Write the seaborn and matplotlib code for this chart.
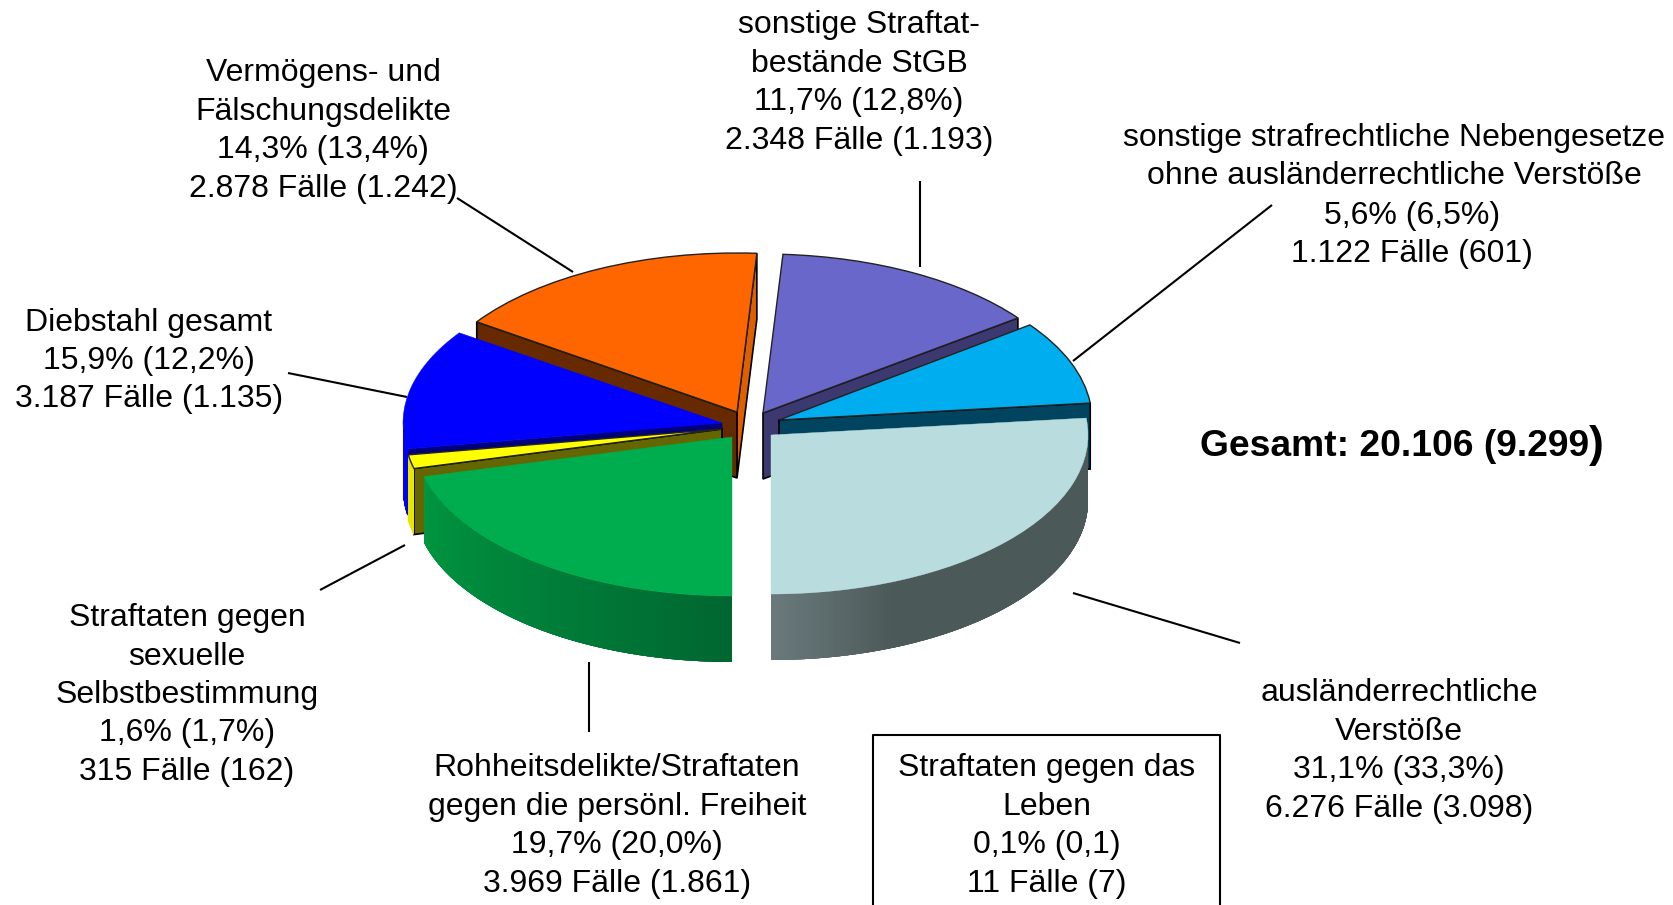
import numpy as np
import matplotlib
matplotlib.use('Agg')
import matplotlib.pyplot as plt
from matplotlib.patches import Polygon
from matplotlib.transforms import Affine2D
import seaborn as sns

# order: counter-clockwise from 6 o'clock
categories = ['auslaenderrecht', 'nebengesetze', 'stgb', 'vermoegen', 'diebstahl', 'sexuell', 'rohheit']
# share of the circle as drawn in the picture (the drawing does not follow the printed percentages exactly)
slice_shares = [26.7, 8.5, 13.8, 16.4, 12.2, 1.4, 21.0]

names = ['ausländerrechtliche\nVerstöße', 'sonstige strafrechtliche Nebengesetze\nohne ausländerrechtliche Verstöße',
         'sonstige Straftat-\nbestände StGB', 'Vermögens- und\nFälschungsdelikte', 'Diebstahl gesamt',
         'Straftaten gegen\nsexuelle\nSelbstbestimmung', 'Rohheitsdelikte/Straftaten\ngegen die persönl. Freiheit',
         'Straftaten gegen das\nLeben']
percents = ['31,1% (33,3%)', '5,6% (6,5%)', '11,7% (12,8%)', '14,3% (13,4%)', '15,9% (12,2%)',
            '1,6% (1,7%)', '19,7% (20,0%)', '0,1% (0,1)']
cases = ['6.276 Fälle (3.098)', '1.122 Fälle (601)', '2.348 Fälle (1.193)', '2.878 Fälle (1.242)',
         '3.187 Fälle (1.135)', '315 Fälle (162)', '3.969 Fälle (1.861)', '11 Fälle (7)']
total = 'Gesamt: 20.106 (9.299'

W, H = 1673, 905
RY, DEPTH = 159, 66
radii = [317, 313, 318, 316, 319, 318, 318]

top_colors = ['#b9dcde', '#00aeef', '#6a67ca', '#ff6600', '#0000ff', '#ffff00', '#00ad4e']
start_face = ['#4c5959', '#00445f', '#3c3870', '#dd5f00', '#0000ff', '#e6e600', '#00ad4e']
end_face = ['#4c5959', '#00445f', '#3c3870', '#662900', '#00007a', '#666600', '#00ad4e']
wall_stops = [['#6a7a7c', '#4c5959', '#4c5959', '#4c5959', '#4c5959'], ['#00445f', '#00445f'],
              ['#3c3870', '#3c3870'], ['#dd5f00', '#dd5f00'], ['#0000ff', '#0000ff'],
              ['#e6e600', '#e6e600'], ['#00963f', '#00803a', '#006630']]
outlined = [False, True, True, True, False, True, False]
centres = [(771, 435), (779, 420), (763, 413), (737, 412), (722, 423), (722, 429), (732, 437)]
paint_order = [3, 2, 1, 4, 5, 0, 6]

sns.set_theme(style='white')
plt.rcParams['font.family'] = ['Liberation Sans', 'DejaVu Sans']

fig = plt.figure(figsize=(W / 100, H / 100), dpi=100)
ax = fig.add_axes([0, 0, 1, 1])
wedges, _ = ax.pie(slice_shares, startangle=-90, counterclock=True, normalize=True)
ax.set_aspect('auto')
ax.set_xlim(0, W)
ax.set_ylim(H, 0)
ax.axis('off')


def point(i, deg, r=1.0):
    a = np.radians(deg)
    return centres[i][0] + radii[i] * r * np.cos(a), centres[i][1] - RY * r * np.sin(a)


def cut_face(i, deg, color, z, edge):
    x0, y0 = point(i, deg, 0)
    x1, y1 = point(i, deg)
    ax.fill([x0, x1, x1, x0], [y0, y1, y1 + DEPTH, y0 + DEPTH], facecolor=color, zorder=z,
            edgecolor='black' if edge else color, linewidth=1.2 if edge else 0.5)


for z, i in enumerate(paint_order):
    z = z * 10 + 1
    w = wedges[i]
    # cut faces looking towards the viewer
    if np.sin(np.radians(w.theta1 - 90)) < -0.01:
        cut_face(i, w.theta1, start_face[i], z, outlined[i])
    if np.sin(np.radians(w.theta2 + 90)) < -0.01:
        cut_face(i, w.theta2, end_face[i], z, outlined[i])
    # outer wall, thin strips with the shading, clipped to one smooth outline
    steps = np.linspace(w.theta1, w.theta2, int((w.theta2 - w.theta1) * 2) + 2)
    steps = steps[np.sin(np.radians(steps)) < 0.0]
    if len(steps) > 1:
        shades = sns.blend_palette(wall_stops[i], n_colors=len(steps))
        arc = np.array([point(i, d) for d in steps])
        low = arc[::-1] + [0, DEPTH]
        outline = Polygon(np.vstack([arc, low]), closed=True, transform=ax.transData,
                          facecolor=shades[len(steps) // 2], edgecolor='none', zorder=z + 1)
        ax.add_patch(outline)
        for k in range(len(steps) - 1):
            xa, ya = arc[k]
            xb, yb = arc[k + 1]
            strip = ax.fill([xa, xb, xb, xa], [ya, yb, yb + DEPTH, ya + DEPTH], color=shades[k],
                            linewidth=1.0, antialiased=False, zorder=z + 1)[0]
            strip.set_clip_path(outline)
    # top face comes from the pie itself
    w.set_transform(Affine2D().scale(radii[i], -RY).translate(*centres[i]) + ax.transData)
    w.set_facecolor(top_colors[i])
    w.set_edgecolor('#222222' if outlined[i] else top_colors[i])
    w.set_linewidth(1.0 if outlined[i] else 0.3)
    w.set_zorder(z + 2)

# leader lines
leaders = [((457, 198), (573, 272)), ((288, 373), (407, 397)), ((320, 590), (405, 545)),
           ((589, 662), (589, 732)), ((920, 181), (920, 267)), ((1272, 205), (1073, 361)),
           ((1073, 593), (1240, 643))]
for a, b in leaders:
    ax.plot([a[0], b[0]], [a[1], b[1]], color='black', linewidth=1.5, zorder=100, solid_capstyle='butt')

ax.plot([873, 873, 1220, 1220], [910, 735, 735, 910], color='black', linewidth=1.5, zorder=100)

FS = 23
LS = 1.365


def label(x, y, s, **kw):
    ax.text(x, y, s, ha='center', va='center', fontsize=FS, linespacing=LS, color='black', zorder=101, **kw)


def block(i):
    return names[i] + '\n' + percents[i] + '\n' + cases[i]


label(1399, 751, block(0))
label(1394, 157, names[1])
label(1412, 235, percents[1] + '\n' + cases[1])
label(859, 83, block(2))
label(323, 131, block(3))
label(149, 361, block(4))
label(187, 695, block(5))
label(617, 826, block(6))
label(1047, 826, block(7))

ax.text(1200, 446, total, ha='left', va='center', fontsize=26.8, fontweight='bold', color='black', zorder=101)
ax.text(1589, 445, ')', ha='left', va='center', fontsize=32, fontweight='bold', color='black', zorder=101)

fig.savefig('out.png', dpi=100)
